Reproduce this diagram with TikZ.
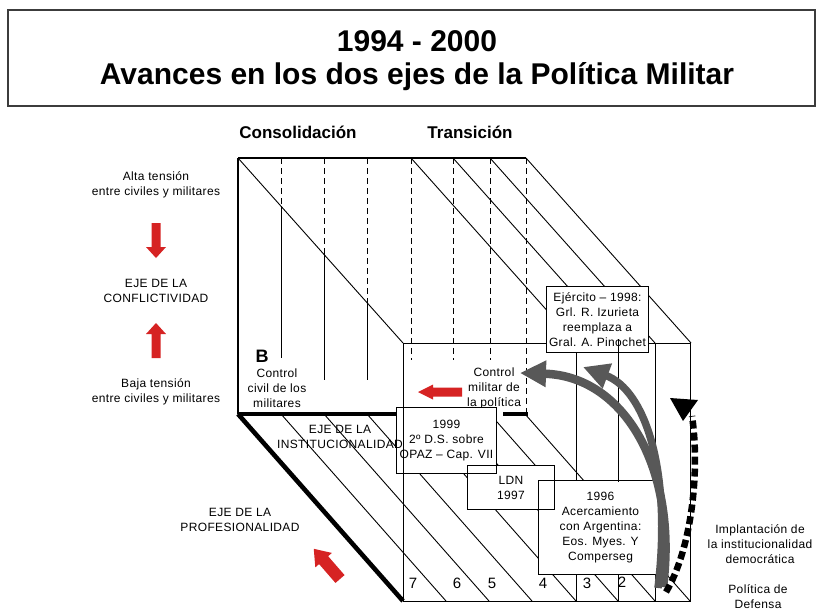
\documentclass[tikz,border=0pt]{standalone}
\usepackage{fontspec}
\setmainfont{Liberation Sans}
\newfontfamily\lsfont[LetterSpace=3,Ligatures=TeX]{Liberation Sans}
\usetikzlibrary{arrows.meta}
\definecolor{redfill}{RGB}{214,35,35}
\definecolor{grayarr}{RGB}{88,88,88}
\definecolor{frame}{RGB}{60,60,60}
\tikzset{
  lbl/.style={inner sep=0pt, align=center, font=\lsfont\fontsize{12}{15}\selectfont},
  headlbl/.style={inner sep=0pt, font=\bfseries\fontsize{17}{20}\selectfont},
  titlelbl/.style={inner sep=0pt, font=\bfseries\fontsize{30}{36}\selectfont},
  numlbl/.style={inner sep=0pt, font=\fontsize{15}{18}\selectfont},
  boxfill/.style={lbl, fill=white, inner sep=0pt},
  boxframe/.style={draw=black, line width=0.9pt},
  cubeline/.style={line width=0.9pt},
  edgeline/.style={line width=1.4pt},
  thickedge/.style={line width=4.2pt},
  hidden/.style={dash pattern=on 6pt off 4pt, line width=1pt},
  grayarrow/.style={draw=grayarr, line width=#1, -{Triangle[length=26pt,width=25pt]}},
  pics/redarrow/.style n args={4}{code={
    \fill[redfill] (0,-#4) -- ({#1-#2},-#4) -- ({#1-#2},-#3) -- (#1,0)
      -- ({#1-#2},#3) -- ({#1-#2},#4) -- (0,#4) -- cycle;}},
}
\begin{document}
\begin{tikzpicture}[x=1pt,y=-1pt]
\useasboundingbox (0,0) rectangle (818,611);
\fill[white] (0,0) rectangle (818,611);

% ---------- title ----------
\coordinate (tbA) at (8,10);
\coordinate (tbB) at (815,106);
\draw[frame, line width=1.3pt] (tbA) rectangle (tbB);
\node[titlelbl] (t1) at (417,41) {1994 - 2000};
\node[titlelbl] (t2) at (417,77) {Avances en los dos ejes de la Política Militar};

% ---------- headings ----------
\node[headlbl] (cons) at (298,132) {Consolidación};
\node[headlbl] (trans) at (470,132) {Transición};

% ---------- cube corners ----------
\coordinate (BTL) at (238,158);
\coordinate (BTR) at (526,158);
\coordinate (BBL) at (238,414);
\coordinate (FTL) at (403,343);
\coordinate (FTR) at (690,343);
\coordinate (FBL) at (403,601);
\coordinate (FBR) at (690,601);

% top face diagonals
\draw[cubeline] (BTL) -- (FTL);
\foreach \x in {411,453,490,526}
  \draw[cubeline] (\x,158) -- ({\x+165},343);

% back face hidden/visible verticals
\draw[hidden] (281,158) -- (281,206);
\draw[cubeline] (281,206) -- (281,358);
\draw[hidden] (324,158) -- (324,254);
\draw[cubeline] (324,254) -- (324,380);
\draw[hidden] (367,158) -- (367,303);
\draw[cubeline] (367,303) -- (367,380);
\foreach \x in {411,453,490}
  \draw[hidden] (\x,158) -- (\x,360);
\draw[hidden] (526,158) -- (526,414);

% bottom hatching
\foreach \x in {281,324,367,411,453,490}
  \draw[cubeline] (\x,414) -- ({\x+165},601);
\draw[cubeline] (525,414) -- (FBR);

% front face
\draw[cubeline] (FTL) -- (FTR) -- (FBR) -- (FBL);
\foreach \x in {576,655}
  \draw[cubeline] (\x,343) -- (\x,601);

% back face edges
\draw[line width=1.2pt] (BTL) -- (BTR);
\draw[edgeline] (BTL) -- (BBL);
\draw[thickedge] (BBL) -- (403,414);
\draw[thickedge] (503,414) -- (528,414);
\draw[line width=4.6pt] (BBL) -- (FBL);

% ---------- left labels ----------
\node[lbl] (alta) at (156,185) {Alta tensión\\entre civiles y militares};
\node[lbl] (conf) at (156,291) {EJE DE LA\\CONFLICTIVIDAD};
\node[lbl] (baja) at (156,392) {Baja tensión\\entre civiles y militares};
\pic[rotate=-90] at (156,223) {redarrow={35}{11}{10}{4.5}};
\pic[rotate=90] at (156,358) {redarrow={35}{11}{10}{4.5}};

% ---------- inner labels ----------
\node[inner sep=0pt, font=\bfseries\fontsize{18}{20}\selectfont] (B) at (262,356) {B};
\node[lbl] (ccivil) at (277,388) {Control\\civil de los\\militares};
\node[lbl] (cmil) at (494,388) {Control\\militar de\\la política};
\pic[rotate=180] at (462,392) {redarrow={44}{15}{7.5}{4.5}};
\node[lbl] (prof) at (240,520) {EJE DE LA\\PROFESIONALIDAD};
\pic[rotate=131] at (340,579) {redarrow={40}{15}{11}{6}};

% ---------- numbers ----------
\node[numlbl] (n7) at (413,583) {7};
\node[numlbl] (n6) at (457,583) {6};
\node[numlbl] (n5) at (492,583) {5};
\node[numlbl] (n4) at (543,583) {4};
\node[numlbl] (n3) at (587,583) {3};
\node[numlbl] (n2) at (622,582) {2};
\node[numlbl] (n1) at (658,582) {1};

% ---------- boxes ----------
\node[boxfill, minimum width=101pt, minimum height=65pt] (ejer) at (597.5,319.5)
  {Ejército – 1998:\\Grl. R. Izurieta\\reemplaza a\\Gral. A. Pinochet};
\node[boxfill, minimum width=99pt, minimum height=65pt] (d1999) at (446.5,440.5)
  {1999\\2º D.S. sobre\\OPAZ – Cap. VII};
\node[boxfill, minimum width=86pt, minimum height=43pt] (ldn) at (511,487.5)
  {LDN\\1997};
\node[boxfill, minimum width=123pt, minimum height=93pt] (d1996) at (600.5,527.5)
  {1996\\Acercamiento\\con Argentina:\\Eos. Myes. Y\\Comperseg};
\draw[boxframe] (ejer.north west) rectangle (ejer.south east);
\draw[boxframe] (d1999.north west) rectangle (d1999.south east);
\draw[boxframe] (ldn.north west) rectangle (ldn.south east);
\draw[boxframe] (d1996.north west) rectangle (d1996.south east);

% lines that run over the boxes
\draw[cubeline] (FTL) -- (FBL);
\draw[cubeline] (618,339) -- (618,482);
\draw[cubeline] (618,574) -- (618,601);
\node[lbl] (inst) at (340,437) {EJE DE LA\\INSTITUCIONALIDAD};

% ---------- right labels ----------
\node[lbl] (impl) at (760,544) {Implantación de\\la institucionalidad\\democrática};
\node[lbl] (polit) at (758,597) {Política de\\Defensa};

% ---------- curved arrows ----------
\coordinate (g1s) at (663,587);
\coordinate (g1e) at (520,373);
\coordinate (g2s) at (658,588);
\coordinate (g2e) at (583,367);
\draw[grayarrow=8.5pt] (g1s) .. controls (678,470) and (625,376) .. (g1e);
\draw[grayarrow=7.5pt] (g2s) .. controls (672,470) and (645,390) .. (g2e);

\coordinate (bks) at (666,592);
\coordinate (bke) at (692,416);
\draw[line width=6.5pt, dash pattern=on 8pt off 4pt] (bks) .. controls (692,548) and (700,470) .. (bke);
\fill (670,398) -- (698,400) -- (683,421) -- cycle;
\end{tikzpicture}
\end{document}
